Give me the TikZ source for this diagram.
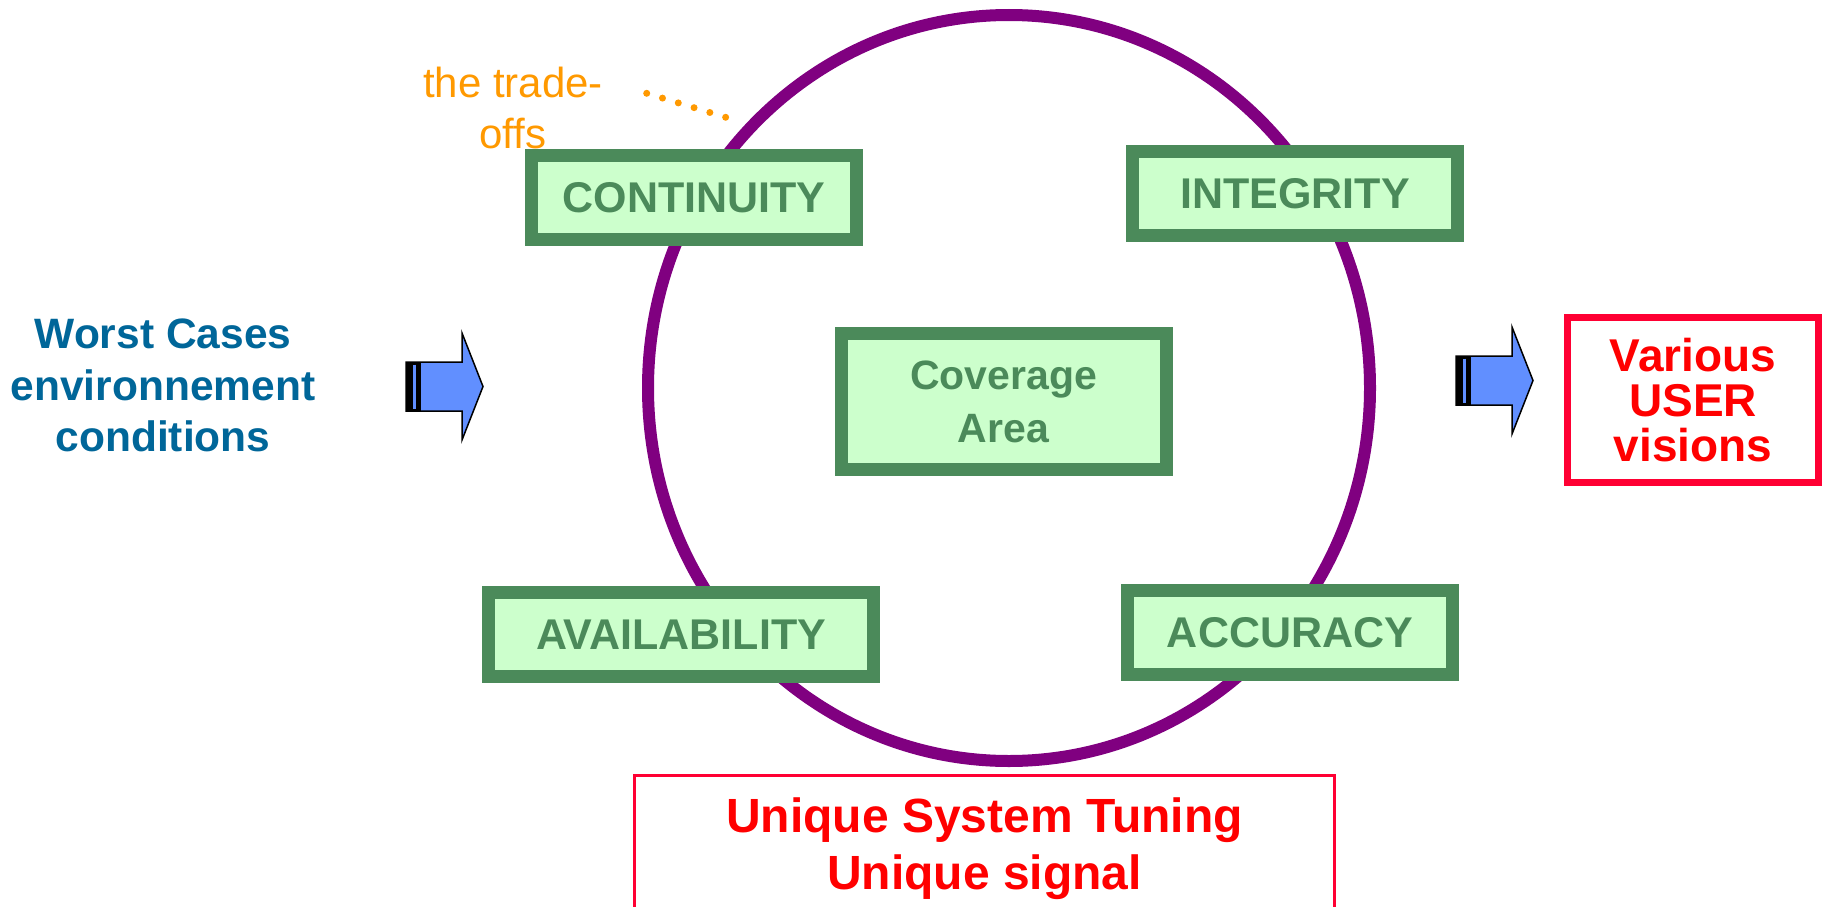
\documentclass[tikz,border=0pt]{standalone}
\usepackage{fontspec}
\setmainfont{Liberation Sans}
\usetikzlibrary{positioning}

\definecolor{boxgreen}{RGB}{75,138,90}
\definecolor{boxfill}{RGB}{204,255,204}
\definecolor{ringpurple}{RGB}{128,0,128}
\definecolor{tradeorange}{RGB}{255,153,0}
\definecolor{casesblue}{RGB}{0,102,153}
\definecolor{userred}{RGB}{255,0,51}
\definecolor{arrowblue}{RGB}{97,143,255}

% block arrow, #1 = middle of its left end
\newcommand{\fatarrow}[1]{%
    \begin{scope}[shift={#1}]
        \draw[fill=arrowblue, line width=1.5pt, line join=miter]
            (0,-24.5) -- (56,-24.5) -- (56,-53.5) -- (77,0)
            -- (56,53.5) -- (56,24.5) -- (0,24.5) -- cycle;
        \fill[black] (0,-24.5) rectangle (15,24.5);
        \draw[arrowblue, line width=2.5pt] (8.5,-22) -- (8.5,22);
    \end{scope}}

\begin{document}
\begin{tikzpicture}[
            x=1pt, y=-1pt,
            every node/.style={inner sep=0pt, align=center},
            quality/.style={draw=boxgreen, fill=boxfill, line width=13pt,
                minimum width=325pt, minimum height=84pt, text=boxgreen,
                font=\bfseries\fontsize{43}{50}\selectfont},
            ring/.style={draw=ringpurple, line width=12pt},
            note/.style={text=tradeorange, font=\fontsize{42}{51}\selectfont},
            tradeoff/.style={draw=tradeorange, line width=7pt, line cap=round,
                dash pattern=on 0pt off 16.5pt},
            userbox/.style={draw=userred, line width=7pt, text=red,
                minimum width=251pt, minimum height=165pt,
                font=\bfseries\fontsize{46}{45}\selectfont},
            tuningbox/.style={draw=userred, line width=3pt, text=red,
                minimum width=700pt, inner ysep=23pt, anchor=north,
                font=\bfseries\fontsize{48}{56.5}\selectfont}]
        \useasboundingbox (0,0) rectangle (1823,907);
        \clip (0,0) rectangle (1823,907);

        \draw[ring] (1009,388) ellipse [x radius=361, y radius=373];

        \node [quality] (cont) at (694,197.5) {CONTINUITY};
        \node [quality] (integ) at (1295,193.5) {INTEGRITY};
        \node [quality, minimum height=136pt,
            font=\bfseries\fontsize{41}{53}\selectfont]
            (cover) at (1003.5,401.5) {Coverage\\Area};
        \node [quality, minimum width=385pt] (avail) at (681,634.5) {AVAILABILITY};
        \node [quality] (accur) at (1290,632.5) {ACCURACY};

        \node [note] (trade) at (513,107.5) {the trade-\\offs};
        \coordinate (tradeA) at (646.7,93.3);
        \coordinate (tradeB) at (725.7,117.3);
        \draw [tradeoff] (tradeA) -- (tradeB);

        \node [text=casesblue, font=\bfseries\fontsize{42.5}{51.3}\selectfont]
            (cases) at (163,385.5) {Worst Cases\\environnement\\conditions};
        \fatarrow{(406,386.5)}
        \fatarrow{(1456,380.5)}

        \node [userbox] (user) at (1693,400) {Various\\USER\\visions};
        \node [tuningbox] (tuning) at (984.5,773.5) {Unique System Tuning\\Unique signal};
    \end{tikzpicture}
\end{document}
